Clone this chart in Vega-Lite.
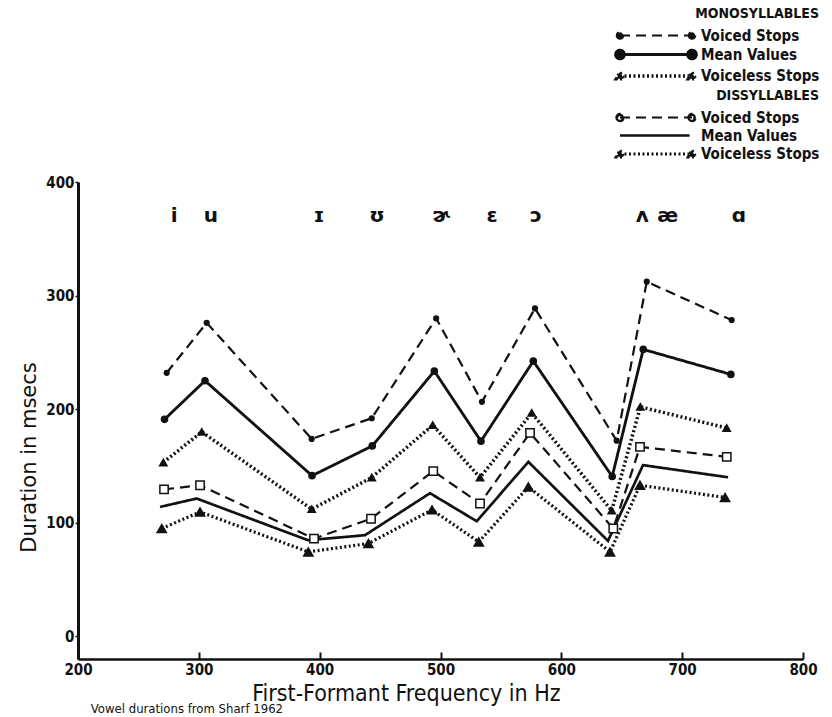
{
  "$schema": "https://vega.github.io/schema/vega-lite/v6.json",
  "autosize": {"type": "none"},
  "width": 725,
  "height": 477,
  "padding": {"left": 78, "top": 182, "right": 29, "bottom": 58},
  "background": "white",
  "view": {"stroke": null},
  "config": {
    "font": "Liberation Sans",
    "axis": {"grid": false, "domainColor": "#111", "tickColor": "#111", "labelColor": "#111", "titleColor": "#111"}
  },
  "title": {
    "text": "Vowel durations from Sharf 1962",
    "orient": "bottom",
    "anchor": "start",
    "offset": -2,
    "dx": 72,
    "fontSize": 13,
    "fontWeight": "normal",
    "font": "Liberation Sans Narrow, DejaVu Sans Condensed, Liberation Sans",
    "color": "#111"
  },
  "datasets": {
    "pts": [
      {"group": "Monosyllables", "type": "Voiced Stops", "series": "Mono Voiced", "f1": 273.4, "dur": 232},
      {"group": "Monosyllables", "type": "Voiced Stops", "series": "Mono Voiced", "f1": 306.5, "dur": 276},
      {"group": "Monosyllables", "type": "Voiced Stops", "series": "Mono Voiced", "f1": 393.4, "dur": 173.8},
      {"group": "Monosyllables", "type": "Voiced Stops", "series": "Mono Voiced", "f1": 443.1, "dur": 192},
      {"group": "Monosyllables", "type": "Voiced Stops", "series": "Mono Voiced", "f1": 496.4, "dur": 280},
      {"group": "Monosyllables", "type": "Voiced Stops", "series": "Mono Voiced", "f1": 534.3, "dur": 206.4},
      {"group": "Monosyllables", "type": "Voiced Stops", "series": "Mono Voiced", "f1": 578.2, "dur": 288.7},
      {"group": "Monosyllables", "type": "Voiced Stops", "series": "Mono Voiced", "f1": 645.8, "dur": 172.2},
      {"group": "Monosyllables", "type": "Voiced Stops", "series": "Mono Voiced", "f1": 670.7, "dur": 312.2},
      {"group": "Monosyllables", "type": "Voiced Stops", "series": "Mono Voiced", "f1": 741, "dur": 278.4},

      {"group": "Monosyllables", "type": "Mean Values", "series": "Mono Mean", "f1": 271.6, "dur": 191},
      {"group": "Monosyllables", "type": "Mean Values", "series": "Mono Mean", "f1": 305.1, "dur": 225},
      {"group": "Monosyllables", "type": "Mean Values", "series": "Mono Mean", "f1": 393.7, "dur": 141.4},
      {"group": "Monosyllables", "type": "Mean Values", "series": "Mono Mean", "f1": 443.5, "dur": 167.6},
      {"group": "Monosyllables", "type": "Mean Values", "series": "Mono Mean", "f1": 494.9, "dur": 233.5},
      {"group": "Monosyllables", "type": "Mean Values", "series": "Mono Mean", "f1": 533.5, "dur": 171.8},
      {"group": "Monosyllables", "type": "Mean Values", "series": "Mono Mean", "f1": 576.8, "dur": 242.3},
      {"group": "Monosyllables", "type": "Mean Values", "series": "Mono Mean", "f1": 642.1, "dur": 140.7},
      {"group": "Monosyllables", "type": "Mean Values", "series": "Mono Mean", "f1": 667.8, "dur": 252.6},
      {"group": "Monosyllables", "type": "Mean Values", "series": "Mono Mean", "f1": 740.3, "dur": 230.6},

      {"group": "Monosyllables", "type": "Voiceless Stops", "series": "Mono Voiceless", "f1": 270.6, "dur": 153},
      {"group": "Monosyllables", "type": "Voiceless Stops", "series": "Mono Voiceless", "f1": 302.4, "dur": 180},
      {"group": "Monosyllables", "type": "Voiceless Stops", "series": "Mono Voiceless", "f1": 393.4, "dur": 111.9},
      {"group": "Monosyllables", "type": "Voiceless Stops", "series": "Mono Voiceless", "f1": 443.1, "dur": 139.8},
      {"group": "Monosyllables", "type": "Voiceless Stops", "series": "Mono Voiceless", "f1": 493.6, "dur": 185.9},
      {"group": "Monosyllables", "type": "Voiceless Stops", "series": "Mono Voiceless", "f1": 532.7, "dur": 139.8},
      {"group": "Monosyllables", "type": "Voiceless Stops", "series": "Mono Voiceless", "f1": 575.5, "dur": 196.7},
      {"group": "Monosyllables", "type": "Voiceless Stops", "series": "Mono Voiceless", "f1": 641.7, "dur": 110.6},
      {"group": "Monosyllables", "type": "Voiceless Stops", "series": "Mono Voiceless", "f1": 665.4, "dur": 202},
      {"group": "Monosyllables", "type": "Voiceless Stops", "series": "Mono Voiceless", "f1": 736.8, "dur": 183.4},

      {"group": "Dissyllables", "type": "Voiced Stops", "series": "Diss Voiced", "f1": 271.2, "dur": 129.3},
      {"group": "Dissyllables", "type": "Voiced Stops", "series": "Diss Voiced", "f1": 301, "dur": 133},
      {"group": "Dissyllables", "type": "Voiced Stops", "series": "Diss Voiced", "f1": 395.3, "dur": 86},
      {"group": "Dissyllables", "type": "Voiced Stops", "series": "Diss Voiced", "f1": 442.5, "dur": 103.5},
      {"group": "Dissyllables", "type": "Voiced Stops", "series": "Diss Voiced", "f1": 494, "dur": 145.4},
      {"group": "Dissyllables", "type": "Voiced Stops", "series": "Diss Voiced", "f1": 532.7, "dur": 116.9},
      {"group": "Dissyllables", "type": "Voiced Stops", "series": "Diss Voiced", "f1": 574.1, "dur": 179.1},
      {"group": "Dissyllables", "type": "Voiced Stops", "series": "Diss Voiced", "f1": 643, "dur": 94.9},
      {"group": "Dissyllables", "type": "Voiced Stops", "series": "Diss Voiced", "f1": 665.1, "dur": 166.8},
      {"group": "Dissyllables", "type": "Voiced Stops", "series": "Diss Voiced", "f1": 736.9, "dur": 158},

      {"group": "Dissyllables", "type": "Mean Values", "series": "Diss Mean", "f1": 267.9, "dur": 113.9},
      {"group": "Dissyllables", "type": "Mean Values", "series": "Diss Mean", "f1": 298.2, "dur": 121.3},
      {"group": "Dissyllables", "type": "Mean Values", "series": "Diss Mean", "f1": 390.3, "dur": 84.6},
      {"group": "Dissyllables", "type": "Mean Values", "series": "Diss Mean", "f1": 437.5, "dur": 89},
      {"group": "Dissyllables", "type": "Mean Values", "series": "Diss Mean", "f1": 491.3, "dur": 126},
      {"group": "Dissyllables", "type": "Mean Values", "series": "Diss Mean", "f1": 530, "dur": 101.3},
      {"group": "Dissyllables", "type": "Mean Values", "series": "Diss Mean", "f1": 572.7, "dur": 153.6},
      {"group": "Dissyllables", "type": "Mean Values", "series": "Diss Mean", "f1": 638.6, "dur": 84},
      {"group": "Dissyllables", "type": "Mean Values", "series": "Diss Mean", "f1": 667.6, "dur": 150.7},
      {"group": "Dissyllables", "type": "Mean Values", "series": "Diss Mean", "f1": 738, "dur": 140},

      {"group": "Dissyllables", "type": "Voiceless Stops", "series": "Diss Voiceless", "f1": 269.3, "dur": 94.9},
      {"group": "Dissyllables", "type": "Voiceless Stops", "series": "Diss Voiceless", "f1": 301, "dur": 109.5},
      {"group": "Dissyllables", "type": "Voiceless Stops", "series": "Diss Voiceless", "f1": 390.6, "dur": 74.3},
      {"group": "Dissyllables", "type": "Voiceless Stops", "series": "Diss Voiceless", "f1": 440.3, "dur": 81.7},
      {"group": "Dissyllables", "type": "Voiceless Stops", "series": "Diss Voiceless", "f1": 493, "dur": 111.3},
      {"group": "Dissyllables", "type": "Voiceless Stops", "series": "Diss Voiceless", "f1": 531.7, "dur": 83.1},
      {"group": "Dissyllables", "type": "Voiceless Stops", "series": "Diss Voiceless", "f1": 572.7, "dur": 131.5},
      {"group": "Dissyllables", "type": "Voiceless Stops", "series": "Diss Voiceless", "f1": 640.3, "dur": 74.3},
      {"group": "Dissyllables", "type": "Voiceless Stops", "series": "Diss Voiceless", "f1": 665.1, "dur": 133},
      {"group": "Dissyllables", "type": "Voiceless Stops", "series": "Diss Voiceless", "f1": 735.5, "dur": 122.2}
    ],
    "vowels": [
      {"vowel": "i", "f1": 279.5, "dur": 370},
      {"vowel": "u", "f1": 310, "dur": 370},
      {"vowel": "ɪ", "f1": 399.5, "dur": 370},
      {"vowel": "ʊ", "f1": 447.5, "dur": 370},
      {"vowel": "ɚ", "f1": 500.4, "dur": 370},
      {"vowel": "ɛ", "f1": 542.6, "dur": 370},
      {"vowel": "ɔ", "f1": 579, "dur": 370},
      {"vowel": "ʌ", "f1": 667, "dur": 370},
      {"vowel": "æ", "f1": 688, "dur": 370},
      {"vowel": "ɑ", "f1": 747, "dur": 370}
    ]
  },
  "encoding": {
    "x": {
      "field": "f1", "type": "quantitative",
      "scale": {"domain": [200, 800], "nice": false, "zero": false},
      "axis": {
        "title": "First-Formant Frequency in Hz",
        "values": [200, 300, 400, 500, 600, 700, 800],
        "domainWidth": 2.5,
        "tickSize": -7,
        "tickWidth": 2,
        "labelPadding": 10,
        "labelFontSize": 15,
        "labelFontWeight": "bold",
        "labelFont": "Liberation Sans Narrow, DejaVu Sans Condensed, Liberation Sans",
        "titleFontSize": 23,
        "titleFontWeight": "normal",
        "titleFont": "Liberation Sans Narrow, DejaVu Sans Condensed, Liberation Sans",
        "titleX": 328,
        "titleY": 23,
        "labelFlush": false
      }
    },
    "y": {
      "field": "dur", "type": "quantitative",
      "scale": {"domain": [-20, 400], "nice": false, "zero": false},
      "axis": {
        "title": "Duration in msecs",
        "values": [0, 100, 200, 300, 400],
        "domainWidth": 3,
        "tickSize": 3,
        "tickWidth": 1.5,
        "labelPadding": 1,
        "labelFontSize": 15,
        "labelFontWeight": "bold",
        "labelFont": "Liberation Sans Narrow, DejaVu Sans Condensed, Liberation Sans",
        "titleFontSize": 21,
        "titleFontWeight": "normal",
        "titleFont": "DejaVu Sans, Liberation Sans",
        "titlePadding": 6,
        "titleY": 275,
        "labelFlush": false
      }
    }
  },
  "layer": [
    {
      "data": {"name": "pts"},
      "transform": [{"filter": "datum.group === 'Monosyllables'"}],
      "mark": {"type": "line", "color": "#111"},
      "encoding": {
        "strokeDash": {
          "field": "type", "type": "nominal",
          "scale": {"domain": ["Voiced Stops", "Mean Values", "Voiceless Stops"], "range": [[10, 6], [1, 0], [2, 2.5]]},
          "legend": {
            "title": "MONOSYLLABLES", "orient": "none", "legendX": 600, "legendY": -175, "padding": 0,
            "titleAnchor": "end", "titleFontSize": 14, "titleFontWeight": "bold",
            "titleFont": "Liberation Sans Narrow, DejaVu Sans Condensed, Liberation Sans",
            "labelFont": "Liberation Sans Narrow, DejaVu Sans Condensed, Liberation Sans",
            "labelFontSize": 15, "labelFontWeight": "bold", "labelColor": "#111", "titleColor": "#111",
            "symbolSize": 256, "symbolStrokeColor": "#111", "symbolFillColor": "#111", "symbolStrokeWidth": 2,
            "rowPadding": 0, "labelOffset": 3, "titlePadding": 5,
            "encode": {
              "symbols": {
                "update": {
                  "shape": {"signal": "datum.value === 'Voiced Stops' ? 'M-8.5,0H0.5M-8.9,0a0.4,0.4 0 1,0 0.8,0a0.4,0.4 0 1,0 -0.8,0ZM0.1,0a0.4,0.4 0 1,0 0.8,0a0.4,0.4 0 1,0 -0.8,0Z' : datum.value === 'Mean Values' ? 'M-8.5,0H0.5M-9.05,0a0.55,0.55 0 1,0 1.1,0a0.55,0.55 0 1,0 -1.1,0ZM-0.05,0a0.55,0.55 0 1,0 1.1,0a0.55,0.55 0 1,0 -1.1,0Z' : 'M-8.5,0H0.5M-8.5,-0.45L-8.05,0.35L-8.95,0.35ZM0.5,-0.45L0.95,0.35L0.05,0.35Z'"},
                  "strokeWidth": {"signal": "datum.value === 'Mean Values' ? 3.2 : 2"},
                  "fill": {"value": "#111"},
                  "stroke": {"value": "#111"}
                }
              }
            }
          }
        },
        "strokeWidth": {
          "field": "type", "type": "nominal",
          "scale": {"domain": ["Voiced Stops", "Mean Values", "Voiceless Stops"], "range": [2.2, 3.5, 2.2]},
          "legend": null
        }
      }
    },
    {
      "data": {"name": "pts"},
      "transform": [{"filter": "datum.group === 'Dissyllables'"}],
      "mark": {"type": "line", "color": "#111"},
      "encoding": {
        "strokeDash": {
          "field": "type", "type": "nominal",
          "scale": {"domain": ["Voiced Stops", "Mean Values", "Voiceless Stops"], "range": [[10, 6], [1, 0], [2, 2.5]]},
          "legend": {
            "title": "DISSYLLABLES", "orient": "none", "legendX": 600, "legendY": -93, "padding": 0,
            "titleAnchor": "end", "titleFontSize": 14, "titleFontWeight": "bold",
            "titleFont": "Liberation Sans Narrow, DejaVu Sans Condensed, Liberation Sans",
            "labelFont": "Liberation Sans Narrow, DejaVu Sans Condensed, Liberation Sans",
            "labelFontSize": 15, "labelFontWeight": "bold", "labelColor": "#111", "titleColor": "#111",
            "symbolSize": 256, "symbolStrokeColor": "#111", "symbolFillColor": "#111", "symbolStrokeWidth": 2,
            "rowPadding": 0, "labelOffset": 3, "titlePadding": 5,
            "encode": {
              "symbols": {
                "update": {
                  "shape": {"signal": "datum.value === 'Voiced Stops' ? 'M-8.5,0H0.5M-8.95,0a0.45,0.45 0 1,0 0.9,0a0.45,0.45 0 1,0 -0.9,0ZM-8.82,0a0.32,0.32 0 1,1 0.64,0a0.32,0.32 0 1,1 -0.64,0ZM0.05,0a0.45,0.45 0 1,0 0.9,0a0.45,0.45 0 1,0 -0.9,0ZM0.18,0a0.32,0.32 0 1,1 0.64,0a0.32,0.32 0 1,1 -0.64,0Z' : datum.value === 'Mean Values' ? 'M-8.5,0H0.2' : 'M-8.5,0H0.5M-8.5,-0.45L-8.05,0.35L-8.95,0.35ZM0.5,-0.45L0.95,0.35L0.05,0.35Z'"},
                  "strokeWidth": {"signal": "datum.value === 'Mean Values' ? 3.2 : 2"},
                  "fill": {"value": "#111"},
                  "stroke": {"value": "#111"}
                }
              }
            }
          }
        },
        "strokeWidth": {
          "field": "type", "type": "nominal",
          "scale": {"domain": ["Voiced Stops", "Mean Values", "Voiceless Stops"], "range": [2.2, 3.2, 2.2]},
          "legend": null
        }
      }
    },
    {
      "data": {"name": "pts"},
      "transform": [{"filter": "datum.series !== 'Diss Mean'"}],
      "mark": {"type": "point", "filled": true, "stroke": "#111", "strokeWidth": 1.5, "opacity": 1},
      "encoding": {
        "shape": {
          "field": "series", "type": "nominal", "legend": null,
          "scale": {"domain": ["Mono Voiced", "Mono Mean", "Mono Voiceless", "Diss Voiced", "Diss Voiceless"], "range": ["circle", "circle", "triangle-up", "square", "triangle-up"]}
        },
        "size": {
          "field": "series", "type": "nominal", "legend": null,
          "scale": {"domain": ["Mono Voiced", "Mono Mean", "Mono Voiceless", "Diss Voiced", "Diss Voiceless"], "range": [22, 85, 20, 28, 20]}
        },
        "fill": {
          "field": "series", "type": "nominal", "legend": null,
          "scale": {"domain": ["Mono Voiced", "Mono Mean", "Mono Voiceless", "Diss Voiced", "Diss Voiceless"], "range": ["#111", "#111", "#111", "#ffffff", "#111"]}
        }
      }
    },
    {
      "data": {"name": "vowels"},
      "mark": {"type": "text", "fontSize": 20, "fontWeight": "bold", "font": "DejaVu Sans, Liberation Sans", "color": "#111", "baseline": "middle", "align": "center"},
      "encoding": {"text": {"field": "vowel"}}
    }
  ],
  "resolve": {"scale": {"strokeDash": "independent", "strokeWidth": "independent"}}
}
